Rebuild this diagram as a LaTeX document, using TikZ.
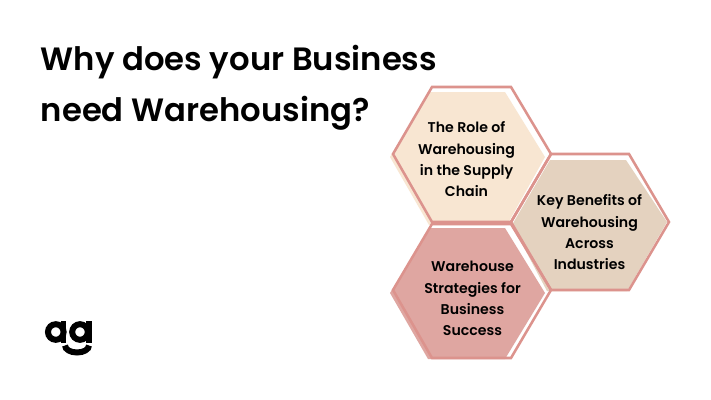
\documentclass[tikz,border=0pt]{standalone}
\usepackage{fontspec}
\setmainfont{Poppins}[BoldFont={Poppins SemiBold}]
\begin{document}
\begin{tikzpicture}[
		x=0.75pt,y=-0.75pt,
		line join=miter,
		title/.style={anchor=west,inner sep=0pt,font=\fontsize{24.2}{24}\selectfont\bfseries,text=black},
		hexlabel/.style={align=center,inner sep=0pt,font=\fontsize{10.6}{16}\selectfont\bfseries,text=black},
		hexline/.style={draw=linepink,line width=1.9pt}
		]
	\definecolor{linepink}{HTML}{DC938D}
	\definecolor{cream}{HTML}{F8E6D2}
	\definecolor{sand}{HTML}{E4D2BF}
	\definecolor{rose}{HTML}{DFA6A1}
	\useasboundingbox (0,0) rectangle (711,400);
	\fill[white] (0,0) rectangle (711,400);
	% top hexagon
	\fill[cream] (429,92) -- (505,92) -- (545,157) -- (507,225) -- (429,225) -- (390,157) -- cycle;
	\draw[hexline] (432,87) -- (511,87) -- (551,154) -- (511,222) -- (432,222) -- (393,154) -- cycle;
	% right hexagon
	\fill[sand] (550,160) -- (626,160) -- (667,222) -- (627,291) -- (547,291) -- (512,225) -- cycle;
	\draw[hexline] (551,154) -- (629,154) -- (669,222) -- (629,290) -- (551,290) -- (511,222) -- cycle;
	% bottom hexagon
	\fill[rose] (430,228) -- (505,228) -- (545,293) -- (505,359) -- (428,359) -- (390,293) -- cycle;
	\draw[hexline] (432,224) -- (511,224) -- (551,290) -- (511,358) -- (432,358) -- (393,290) -- cycle;
	% text
	\node[title] (line1) at (40.5,62.5) {Why does your Business};
	\node[title] (line2) at (40.5,113.5) {need Warehousing?};
	\node[hexlabel] (role) at (466.5,159.5) {The Role of\\Warehousing\\in the Supply\\Chain};
	\node[hexlabel] (benefits) at (589.5,232.5) {Key Benefits of\\Warehousing\\Across\\Industries};
	\node[hexlabel] (strategies) at (472.5,298.5) {Warehouse\\Strategies for\\Business\\Success};
	% logo
	\draw[line width=4.5pt] (55.8,332) circle (7.8);
	\fill (60.5,321) rectangle (66,343);
	\draw[line width=4.5pt] (80,332) circle (7.8);
	\fill (86,321) rectangle (91.5,343);
	\draw[line width=4.5pt] (65,345.5) arc[start angle=180,end angle=0,x radius=12,y radius=7];
\end{tikzpicture}
\end{document}
